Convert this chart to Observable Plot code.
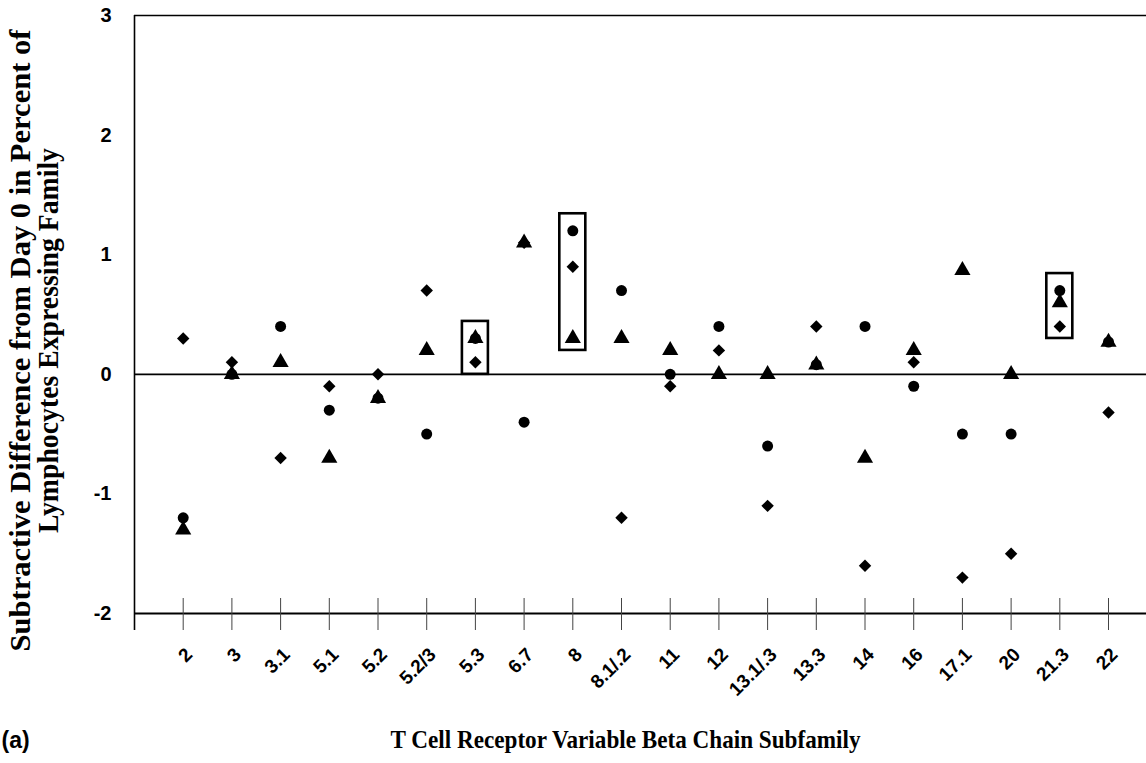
<!DOCTYPE html>
<html><head><meta charset="utf-8">
<script src="https://cdn.jsdelivr.net/npm/d3@7"></script>
<script src="https://cdn.jsdelivr.net/npm/@observablehq/plot@0.6"></script>
<style>body{margin:0;background:#fff}</style>
</head><body><div id="chart"></div>
<script>
const subfamilies = ["2","3","3.1","5.1","5.2","5.2/3","5.3","6.7","8","8.1/.2","11","12","13.1/.3","13.3","14","16","17.1","20","21.3","22"];
const circleValues   = [-1.2, 0, 0.4, -0.3, -0.2, -0.5, 0.3, -0.4, 1.2, 0.7, 0, 0.4, -0.6, 0.08, 0.4, -0.1, -0.5, -0.5, 0.7, 0.27];
const triangleValues = [-1.3, 0, 0.1, -0.7, -0.2, 0.2, 0.3, 1.1, 0.3, 0.3, 0.2, 0, 0, 0.08, -0.7, 0.2, 0.87, 0, 0.6, 0.27];
const diamondValues  = [0.3, 0.1, -0.7, -0.1, 0, 0.7, 0.1, 1.1, 0.9, -1.2, -0.1, 0.2, -1.1, 0.4, -1.6, 0.1, -1.7, -1.5, 0.4, -0.32];
const boxedSubfamilies = ["5.3", "8", "21.3"];
const yTicks = [-2, -1, 0, 1, 2, 3];
const yTitleLine1 = "Subtractive Difference from Day 0 in Percent of";
const yTitleLine2 = "Lymphocytes Expressing Family";
const xTitle = "T Cell Receptor Variable Beta Chain Subfamily";
const panelLabel = "(a)";

const SANS = "'Liberation Sans', Arial, sans-serif";
const SERIF = "'Liberation Serif', 'Times New Roman', serif";

const idx = subfamilies.map((_, i) => i);
const boxes = boxedSubfamilies.map(s => {
  const i = subfamilies.indexOf(s);
  const vs = [circleValues[i], triangleValues[i], diamondValues[i]];
  return {i, lo: d3.min(vs), hi: d3.max(vs)};
});

const chart = Plot.plot({
  width: 1146,
  height: 763,
  marginLeft: 134,
  marginRight: 0,
  marginTop: 15,
  marginBottom: 150,
  x: {domain: [-1, 19.78], axis: null},
  y: {domain: [-2, 3], axis: null},
  style: {background: "white", color: "black"},
  marks: [
    Plot.ruleY([3], {stroke: "black", strokeWidth: 1.5}),
    Plot.ruleY([0], {stroke: "black", strokeWidth: 1.8}),
    Plot.ruleY([-2], {stroke: "black", strokeWidth: 1.8}),
    Plot.ruleX([-1], {y1: 3, y2: -2, insetBottom: -17, stroke: "black", strokeWidth: 1.6}),
    Plot.ruleX(idx, {y1: -2, y2: -2, insetTop: -15, insetBottom: -17, stroke: "#444", strokeWidth: 1}),
    Plot.rect(boxes, {x1: "i", x2: "i", y1: "lo", y2: "hi", insetLeft: -13, insetRight: -13, insetTop: -17, insetBottom: -12, fill: "none", stroke: "black", strokeWidth: 2.6}),
    Plot.dot(circleValues, {x: (d, i) => i, y: d => d, symbol: "circle", r: 5.5, fill: "black", stroke: "none"}),
    Plot.dot(triangleValues, {x: (d, i) => i, y: d => d, symbol: "triangle", r: 6, fill: "black", stroke: "none"}),
    Plot.dot(diamondValues, {x: (d, i) => i, y: d => d, symbol: "diamond2", r: 5.6, fill: "black", stroke: "none"}),
    Plot.axisY(yTicks, {tickSize: 0, tickPadding: 23, tickFormat: d => String(d), fontSize: 20, fontWeight: "bold", fontFamily: SANS, label: null}),
    Plot.text(subfamilies, {x: (d, i) => i, text: d => d, frameAnchor: "bottom", rotate: -45, textAnchor: "end", lineAnchor: "middle", dx: 6, dy: 38, fontSize: 19, fontWeight: "bold", fontFamily: SANS}),
    Plot.text([yTitleLine1], {text: d => d, frameAnchor: "left", rotate: -90, textAnchor: "middle", dx: -114, dy: 26, fontSize: 30, fontWeight: "bold", fontFamily: SERIF}),
    Plot.text([yTitleLine2], {text: d => d, frameAnchor: "left", rotate: -90, textAnchor: "middle", dx: -86, dy: 26, fontSize: 30, fontWeight: "bold", fontFamily: SERIF}),
    Plot.text([xTitle], {text: d => d, frameAnchor: "bottom", dx: -15, dy: 134, fontSize: 26, fontWeight: "bold", fontFamily: SERIF}),
    Plot.text([panelLabel], {text: d => d, frameAnchor: "bottom-left", dx: -133, dy: 134, textAnchor: "start", fontSize: 23, fontWeight: "bold", fontFamily: SANS})
  ]
});
const fitLength = (str, len) => d3.select(chart).selectAll("text")
  .filter(function() { return this.textContent === str; })
  .attr("textLength", len).attr("lengthAdjust", "spacingAndGlyphs");
fitLength(yTitleLine1, 622);
fitLength(yTitleLine2, 385);
fitLength(xTitle, 470);
document.getElementById("chart").appendChild(chart);
</script>
</body></html>
